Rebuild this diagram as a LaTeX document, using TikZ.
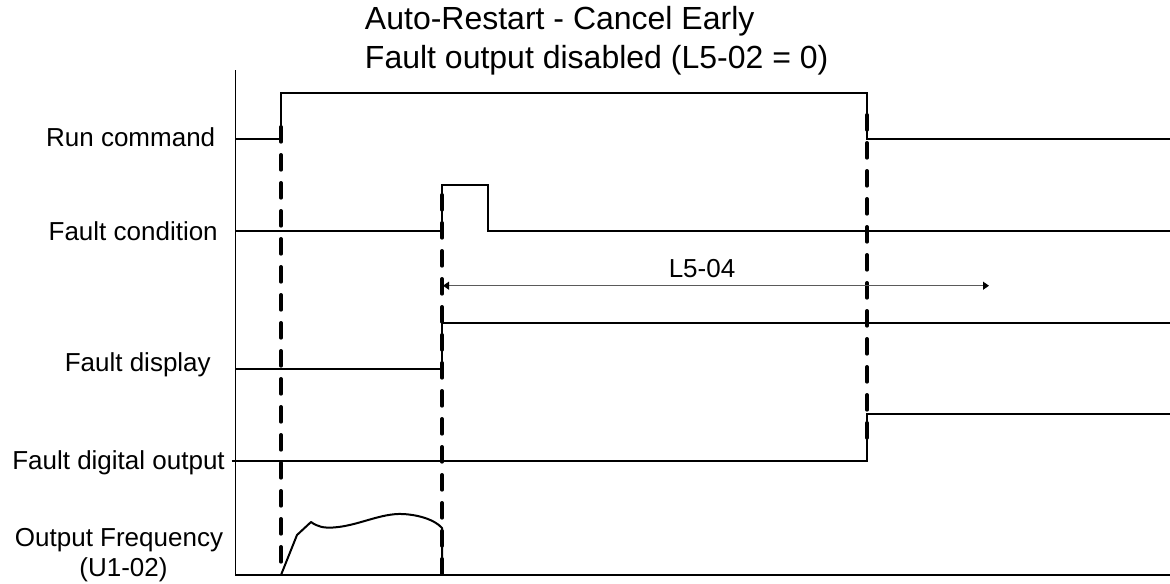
\documentclass[tikz,border=0pt]{standalone}
\usepackage{fontspec}
\setmainfont{Liberation Sans}
\usepackage{tikz}
\usetikzlibrary{arrows.meta,positioning,calc}
\definecolor{ink}{RGB}{0,0,0}
\definecolor{spangray}{RGB}{90,90,90}
\tikzset{
  signal/.style={line width=1.5pt,ink},
  edgemark/.style={line width=3pt,ink,line cap=round,dash pattern=on 11pt off 10pt},
  span/.style={line width=0.8pt,spangray,
    {Triangle[length=4.5pt,width=6pt,color=ink]}-{Triangle[length=4.5pt,width=6pt,color=ink]}},
  siglabel/.style={font=\fontsize{19.5}{22}\selectfont,text=ink,inner sep=0pt},
  heading/.style={font=\fontsize{24}{28}\selectfont,text=ink,inner sep=0pt,anchor=base west}
}

\begin{document}
\begin{tikzpicture}[x=0.75pt,y=-0.75pt]
  \useasboundingbox (0,0) rectangle (1170,583);
  % title
  \node[heading] (head1) at (364.7,29.3) {Auto-Restart - Cancel Early};
  \node[heading] (head2) at (364.7,68.3) {Fault output disabled (L5-02 = 0)};
  % axes
  \draw[line width=1.3pt,ink] (235.4,70)--(235.4,575);
  \draw[line width=2pt,ink] (235.4,575)--(1170,575);
  % signal names
  \node[siglabel,anchor=base east] (runlbl) at (215.5,146) {Run command};
  \node[siglabel,anchor=base east] (condlbl) at (218,240.7) {Fault condition};
  \node[siglabel,anchor=base east] (displbl) at (211,371) {Fault display};
  \node[siglabel,anchor=base east] (doutlbl) at (225,469) {Fault digital output};
  \node[siglabel,anchor=base] (freqlbl) at (119,546) {Output Frequency};
  \node[siglabel,anchor=base] (freqsub) at (123.5,576) {(U1-02)};
  % event times
  \coordinate (t0) at (281,0);
  \coordinate (t1) at (442,0);
  \coordinate (t2) at (867,0);
  % waveforms
  \draw[signal] (235.4,139)--(t0|-0,139)--(t0|-0,93)--(t2|-0,93)--(t2|-0,139)--(1170,139);
  \draw[signal] (235.4,231)--(t1|-0,231)--(t1|-0,185)--(488,185)--(488,231)--(1170,231);
  \draw[signal] (235.4,369)--(t1|-0,369)--(t1|-0,323)--(1170,323);
  \draw[signal] (231.7,461)--(t2|-0,461)--(t2|-0,414)--(1170,414);
  \draw[signal,line join=round] (t0|-0,575)--(297,535)--(311,522)
    .. controls (318,527) and (324,528) .. (333,527.5)
    .. controls (358,526) and (380,513) .. (403,514)
    .. controls (420,515) and (435,520) .. (442,528)
    --(t1|-0,575);
  % dashed event markers
  \draw[edgemark] (t0|-0,127)--(t0|-0,575);
  \draw[edgemark] (t1|-0,195)--(t1|-0,575);
  \draw[edgemark] (t2|-0,115)--(t2|-0,443);
  % L5-04 time span
  \coordinate (spanL) at (443,285.7);
  \coordinate (spanR) at (989,285.7);
  \draw[span] (spanL)--(spanR);
  \node[siglabel,anchor=base] (spanlbl) at (702,277) {L5-04};
\end{tikzpicture}
\end{document}
